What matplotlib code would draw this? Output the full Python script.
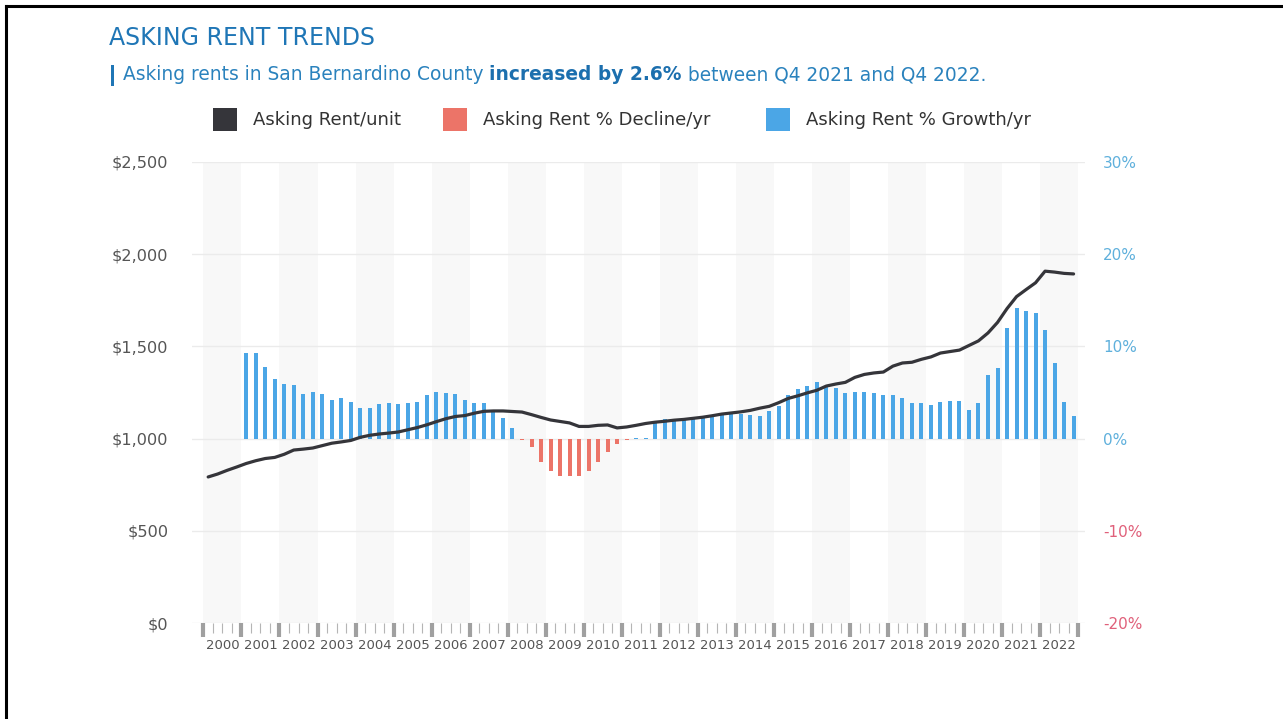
import matplotlib.pyplot as plt
import numpy as np
from matplotlib.lines import Line2D
from matplotlib.patches import Rectangle

plt.rcParams['font.family'] = ['DejaVu Sans']

years = list(range(2000, 2023))

# asking rent per unit, quarterly 2000 Q1 .. 2022 Q4
rent = [792, 808, 828, 846,
        865, 880, 892, 898,
        915, 938, 943, 949,
        962, 975, 982, 990,
        1007, 1018, 1025, 1030,
        1036, 1048, 1060, 1075,
        1092, 1108, 1120, 1125,
        1138, 1148, 1150, 1150,
        1147, 1144, 1130, 1115,
        1101, 1093, 1085, 1066,
        1066, 1072, 1074, 1058,
        1063, 1072, 1082, 1089,
        1094, 1100, 1104, 1110,
        1116, 1124, 1133, 1139,
        1145, 1153, 1165, 1175,
        1195, 1218, 1232, 1248,
        1262, 1285, 1296, 1305,
        1332, 1348, 1356, 1361,
        1393, 1410, 1414, 1430,
        1443, 1464, 1472, 1480,
        1505, 1530, 1573, 1630,
        1705, 1770, 1808, 1845,
        1908, 1903, 1896, 1893]

# year over year change in %, quarterly (none for 2000)
growth = [np.nan, np.nan, np.nan, np.nan,
          9.3, 9.3, 7.8, 6.5,
          5.9, 5.8, 4.8, 5.1,
          4.8, 4.2, 4.4, 4.0,
          3.3, 3.3, 3.7, 3.9,
          3.7, 3.9, 4.0, 4.7,
          5.1, 5.0, 4.8, 4.2,
          3.9, 3.9, 3.0, 2.2,
          1.1, -0.1, -0.9, -2.5,
          -3.5, -4.1, -4.1, -4.1,
          -3.5, -2.5, -1.4, -0.6,
          -0.1, 0.1, 0.1, 1.7,
          2.1, 1.9, 2.1, 2.1,
          2.2, 2.4, 2.6, 2.7,
          2.7, 2.6, 2.4, 3.0,
          3.5, 4.7, 5.4, 5.7,
          6.1, 5.7, 5.5, 5.0,
          5.1, 5.1, 5.0, 4.7,
          4.7, 4.4, 3.9, 3.9,
          3.6, 4.0, 4.1, 4.1,
          3.1, 3.9, 6.9, 7.7,
          12.0, 14.2, 13.8, 13.6,
          11.8, 8.2, 4.0, 2.5]

rent_ticks = [0, 500, 1000, 1500, 2000, 2500]
rent_labels = ['$0', '$500', '$1,000', '$1,500', '$2,000', '$2,500']
pct_ticks = [-20, -10, 0, 10, 20, 30]
pct_labels = ['-20%', '-10%', '0%', '10%', '20%', '30%']

BLUE = '#4ba6e6'
RED = '#ec7468'
LINE = '#35353a'
TITLE = '#1f76b6'
W, H = 1283, 719


def fx(px):
    return px / W


def fy(py):
    return 1 - py / H


fig = plt.figure(figsize=(W / 100, H / 100), dpi=100)
ax = fig.add_axes([fx(192), fy(623), fx(1085) - fx(192), fy(162) - fy(623)])
ax2 = ax.twinx()
ax.set_zorder(ax2.get_zorder() + 1)
ax.patch.set_visible(False)

x = np.arange(len(rent))
g = np.array(growth)

# alternating year bands
for k, yr in enumerate(years):
    if k % 2 == 0:
        ax2.axvspan(4 * k - 0.5, 4 * k + 3.5, color='#f8f8f8', zorder=0, lw=0)
for t in pct_ticks:
    ax2.axhline(t, color='#ebebeb', lw=1, zorder=1)

pos = np.where(g >= 0, g, 0)
neg = np.where(g < 0, g, 0)
ax2.bar(x, np.nan_to_num(pos), width=0.42, color=BLUE, zorder=2)
ax2.bar(x, np.nan_to_num(neg), width=0.42, color=RED, zorder=2)
ax2.set_ylim(-20, 30)

ax.plot(x, rent, color=LINE, lw=2.3, solid_capstyle='round', zorder=3)
ax.set_ylim(0, 2500)
ax.set_xlim(-1.7, 92.2)

for a in (ax, ax2):
    for s in a.spines.values():
        s.set_visible(False)

ax.set_yticks(rent_ticks)
ax.set_yticklabels(rent_labels)
ax.tick_params(axis='y', length=0, pad=17, labelsize=11.6, labelcolor='#555555')

ax2.set_yticks(pct_ticks)
ax2.set_yticklabels(pct_labels)
ax2.tick_params(axis='y', length=0, pad=13, labelsize=11)
for t, lab in zip(pct_ticks, ax2.get_yticklabels()):
    lab.set_color('#e0607a' if t < 0 else '#5fb0dc')

bounds = np.arange(-0.5, 92, 4)
qb = [b for b in np.arange(-0.5, 92, 1) if b not in bounds]
ax.set_xticks(bounds)
ax.set_xticks(qb, minor=True)
ax.tick_params(axis='x', which='major', length=10, width=3, color='#a0a0a0',
               labelbottom=False)
ax.tick_params(axis='x', which='minor', length=7, width=0.8, color='#b5b5b5')

for k, yr in enumerate(years):
    ax.annotate(str(yr), xy=(4 * k + 1.5, 0), xycoords=('data', 'axes fraction'),
                xytext=(0, -16), textcoords='offset points', ha='center',
                va='center', fontsize=9.5, color='#555555')

# title and subtitle
fig.text(fx(109), fy(38), 'ASKING RENT TRENDS', fontsize=17, color=TITLE,
         va='center', ha='left')
fig.add_artist(Rectangle((fx(111), fy(86)), fx(3), fy(65) - fy(86),
                         transform=fig.transFigure, color=TITLE, lw=0))
renderer = fig.canvas.get_renderer()
parts = [('Asking rents in San Bernardino County ', 'normal', '#2a82bd'),
         ('increased by 2.6%', 'bold', '#1c6fae'),
         (' between Q4 2021 and Q4 2022.', 'normal', '#2a82bd')]
cur = fx(123)
for txt, wt, col in parts:
    t = fig.text(cur, fy(75), txt, fontsize=13.4, fontweight=wt, color=col,
                 va='center', ha='left')
    bb = t.get_window_extent(renderer)
    cur = bb.x1 / fig.bbox.width

# legend
leg = [(213, 'Asking Rent/unit', LINE), (443, 'Asking Rent % Decline/yr', RED),
       (766, 'Asking Rent % Growth/yr', BLUE)]
for px, lab, col in leg:
    fig.add_artist(Rectangle((fx(px), fy(131)), fx(24), fy(108) - fy(131),
                             transform=fig.transFigure, color=col, lw=0))
    fig.text(fx(px + 40), fy(120), lab, fontsize=13, color='#333333',
             va='center', ha='left')

# frame lines at top and left
fig.add_artist(Line2D([fx(6), 1], [fy(6), fy(6)], transform=fig.transFigure,
                      color='black', lw=2.2))
fig.add_artist(Line2D([fx(6), fx(6)], [fy(6), 0], transform=fig.transFigure,
                      color='black', lw=2.2))

fig.savefig('out.png', dpi=100)
